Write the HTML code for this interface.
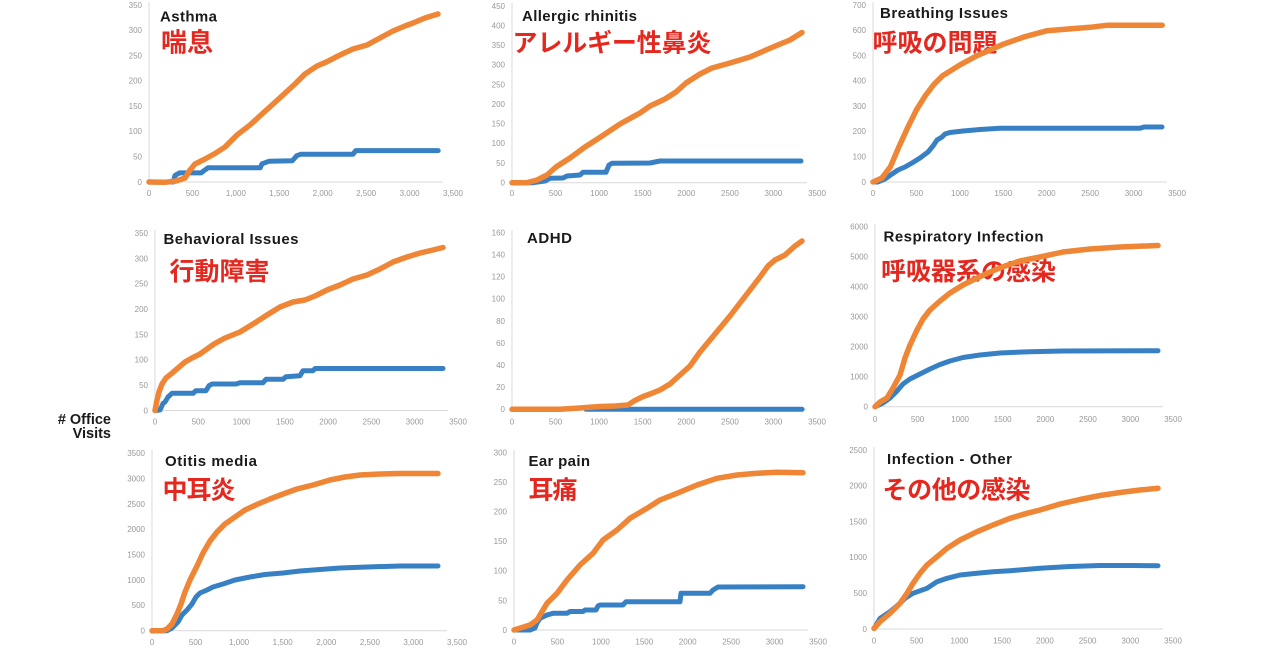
<!DOCTYPE html>
<html><head><meta charset="utf-8"><style>
html,body{margin:0;padding:0;background:#fff;}
svg{display:block;}
.t{font-family:"Liberation Sans",Arial,sans-serif;font-size:8px;fill:#999;}
.ya{text-anchor:end;}
.xa{text-anchor:middle;}
.ti{font-family:"Liberation Sans",Arial,sans-serif;font-size:15px;font-weight:bold;fill:#1a1a1a;}
.jp{font-family:"Liberation Sans","Noto Sans CJK JP",sans-serif;font-size:25px;font-weight:bold;fill:#e5281f;}
.ax{stroke:#d9d9d9;stroke-width:1;fill:none;}
.o{fill:none;stroke:#ee8636;stroke-width:5.5;stroke-linejoin:round;stroke-linecap:round;}
.b{fill:none;stroke:#3880c4;stroke-width:5;stroke-linejoin:round;stroke-linecap:round;}
.yl{font-family:"Liberation Sans",Arial,sans-serif;font-size:14.5px;font-weight:bold;fill:#1a1a1a;text-anchor:end;}
</style></head><body>
<svg width="1280" height="658" viewBox="0 0 1280 658" xmlns="http://www.w3.org/2000/svg">
<rect width="1280" height="658" fill="#fff"/>

<text class="yl" x="111" y="424">#&#160;Office</text>
<text class="yl" x="111" y="438">Visits</text>

<!-- P1 Asthma -->
<g>
<path class="ax" d="M149,2 V182 H443"/>
<g class="t ya">
<text x="142" y="184.8">0</text><text x="142" y="159.5">50</text><text x="142" y="134.2">100</text><text x="142" y="108.9">150</text><text x="142" y="83.7">200</text><text x="142" y="58.4">250</text><text x="142" y="33.1">300</text><text x="142" y="7.8">350</text>
</g>
<g class="t xa">
<text x="149" y="196">0</text><text x="192.4" y="196">500</text><text x="235.9" y="196">1,000</text><text x="279.3" y="196">1,500</text><text x="322.7" y="196">2,000</text><text x="366.1" y="196">2,500</text><text x="409.6" y="196">3,000</text><text x="453" y="196">3,500</text>
</g>
<text class="ti" x="160" y="21.7" textLength="57" lengthAdjust="spacing">Asthma</text>
<text class="jp" x="161" y="51.5" style="font-size:26px">喘息</text>
<polyline class="b" points="149,182 173.3,182 175,175.4 179.4,172.9 201.1,172.9 203.7,170.9 208,167.8 260.2,167.8 262,163.8 268.9,161.3 292.3,160.8 296.7,155.7 301,154.2 353.1,154.2 355.7,150.6 438.2,150.6"/>
<polyline class="o" points="149,182 165,182.3 176,181 185,178 190,170 195,164 205,159 215,153.5 225,147 237,135 250,125 262,114 272,105 283,95 295,84 305,74 317,66 327,61.7 340,55 353,49 367,45 380,38 393,31 405,26 413,23 425,18 438,14"/>
</g>

<!-- P2 Allergic rhinitis -->
<g>
<path class="ax" d="M512,3 V182.7 H807"/>
<g class="t ya">
<text x="505" y="185.5">0</text><text x="505" y="165.9">50</text><text x="505" y="146.2">100</text><text x="505" y="126.6">150</text><text x="505" y="107">200</text><text x="505" y="87.3">250</text><text x="505" y="67.7">300</text><text x="505" y="48.1">350</text><text x="505" y="28.4">400</text><text x="505" y="8.8">450</text>
</g>
<g class="t xa">
<text x="512" y="196">0</text><text x="555.6" y="196">500</text><text x="599.1" y="196">1000</text><text x="642.7" y="196">1500</text><text x="686.3" y="196">2000</text><text x="729.9" y="196">2500</text><text x="773.4" y="196">3000</text><text x="817" y="196">3500</text>
</g>
<text class="ti" x="522" y="21" textLength="115" lengthAdjust="spacing">Allergic rhinitis</text>
<text class="jp" x="512.5" y="51.5" textLength="199" lengthAdjust="spacing">アレルギー性鼻炎</text>
<polyline class="b" points="512,182.7 533,182.7 545,181 550,178.3 563,178 567,176 580,175 583,172.3 606,172.3 609,165 612,163.3 650,163 660,161 801,161"/>
<polyline class="o" points="512,182.7 527,182.7 537,180 547,175 556,167 570,158 585,147 599,138 620,124 640,113 650,106 665,99 676,92 686,83 700,74 712,68 730,63 750,57 773,47 790,40 802,32.5"/>
</g>

<!-- P3 Breathing Issues -->
<g>
<path class="ax" d="M873,2 V182 H1167"/>
<g class="t ya">
<text x="866" y="184.8">0</text><text x="866" y="159.5">100</text><text x="866" y="134.2">200</text><text x="866" y="108.9">300</text><text x="866" y="83.7">400</text><text x="866" y="58.4">500</text><text x="866" y="33.1">600</text><text x="866" y="7.8">700</text>
</g>
<g class="t xa">
<text x="873" y="196">0</text><text x="916.4" y="196">500</text><text x="959.9" y="196">1000</text><text x="1003.3" y="196">1500</text><text x="1046.7" y="196">2000</text><text x="1090.1" y="196">2500</text><text x="1133.6" y="196">3000</text><text x="1177" y="196">3500</text>
</g>
<text class="ti" x="880" y="18" textLength="128" lengthAdjust="spacing">Breathing Issues</text>
<text class="jp" x="872.5" y="51.5" textLength="125" lengthAdjust="spacing">呼吸の問題</text>
<polyline class="b" points="873,182 878,182 885,179 892,174 898,170 905,167 912,163 920,158 928,152 933,146 937,140 942,137 945,134 950,132.5 963,131 980,129.5 1000,128.3 1140,128.3 1144,127 1162,127"/>
<polyline class="o" points="873,182 881.7,178.2 890.4,166.8 899,146.6 907.7,127.6 916.4,110 925.1,96 933.8,84.6 942.5,75.8 959.9,64.9 977.2,55.6 1003.3,44.2 1025,36.6 1046.7,30.8 1090.1,27.3 1107.5,25.2 1162.2,25.2"/>
</g>

<!-- P4 Behavioral Issues -->
<g>
<path class="ax" d="M155,230 V410.5 H448"/>
<g class="t ya">
<text x="148" y="413.3">0</text><text x="148" y="388">50</text><text x="148" y="362.7">100</text><text x="148" y="337.4">150</text><text x="148" y="312.1">200</text><text x="148" y="286.7">250</text><text x="148" y="261.4">300</text><text x="148" y="236.1">350</text>
</g>
<g class="t xa">
<text x="155" y="424.5">0</text><text x="198.3" y="424.5">500</text><text x="241.6" y="424.5">1000</text><text x="284.9" y="424.5">1500</text><text x="328.1" y="424.5">2000</text><text x="371.4" y="424.5">2500</text><text x="414.7" y="424.5">3000</text><text x="458" y="424.5">3500</text>
</g>
<text class="ti" x="163.5" y="244" textLength="135" lengthAdjust="spacing">Behavioral Issues</text>
<text class="jp" x="169.5" y="280" textLength="100" lengthAdjust="spacing">行動障害</text>
<polyline class="b" points="155,410.5 160,410 163,403.5 165,402 168,397 172,393.3 193,393.3 196,390.7 206,390.7 209,385.7 212,384 236,384 240,382.7 263,382.7 266,379.3 283,379.3 286,376.7 300,375.7 303,370.7 313,370.7 315,368.5 443,368.5"/>
<polyline class="o" points="155,410.5 157,400 159,392 162,384 166,378 171,374 178,368 185,362 192,358 200,354 207,349 214,344 225,338 240,332 253,324 267,315 280,307 293,302 305,300 315,296 327,290 340,285 353,279 367,275 380,269 393,262 407,257 420,253 433,250 443,247.5"/>
</g>

<!-- P5 ADHD -->
<g>
<path class="ax" d="M512,230 V409.3 H807"/>
<g class="t ya">
<text x="505" y="412.1">0</text><text x="505" y="390">20</text><text x="505" y="367.9">40</text><text x="505" y="345.9">60</text><text x="505" y="323.8">80</text><text x="505" y="301.7">100</text><text x="505" y="279.6">120</text><text x="505" y="257.6">140</text><text x="505" y="235.5">160</text>
</g>
<g class="t xa">
<text x="512" y="424.5">0</text><text x="555.6" y="424.5">500</text><text x="599.1" y="424.5">1000</text><text x="642.7" y="424.5">1500</text><text x="686.3" y="424.5">2000</text><text x="729.9" y="424.5">2500</text><text x="773.4" y="424.5">3000</text><text x="817" y="424.5">3500</text>
</g>
<text class="ti" x="527" y="243" textLength="45" lengthAdjust="spacing">ADHD</text>
<polyline class="b" points="586,409.3 802,409.3"/>
<polyline class="o" points="512,409.3 560,409.3 580,408 600,406.5 615,406 628,405 634,401 642,397 650,394 660,390 670,384 680,375 690,366 700,352 710,340 720,328 730,316 740,303 750,290 760,277 768,266 775,260 785,255 795,246 802,241"/>
</g>

<!-- P6 Respiratory Infection -->
<g>
<path class="ax" d="M875,224 V406.7 H1163"/>
<g class="t ya">
<text x="868" y="409.5">0</text><text x="868" y="379.5">1000</text><text x="868" y="349.5">2000</text><text x="868" y="319.5">3000</text><text x="868" y="289.5">4000</text><text x="868" y="259.5">5000</text><text x="868" y="229.5">6000</text>
</g>
<g class="t xa">
<text x="875" y="422">0</text><text x="917.6" y="422">500</text><text x="960.1" y="422">1000</text><text x="1002.7" y="422">1500</text><text x="1045.3" y="422">2000</text><text x="1087.9" y="422">2500</text><text x="1130.4" y="422">3000</text><text x="1173" y="422">3500</text>
</g>
<text class="ti" x="883.5" y="241.5" textLength="160" lengthAdjust="spacing">Respiratory Infection</text>
<text class="jp" x="881" y="280" textLength="175" lengthAdjust="spacing">呼吸器系の感染</text>
<polyline class="b" points="875,406.7 883,403 890,398 897,391 903,384 910,379 920,374 930,369 940,364.5 950,361 963,357.5 980,355 1000,353 1030,351.7 1063,351 1158,350.7"/>
<polyline class="o" points="875,406.7 880,402 887,398 893,388 900,375 905,358 910,345 917,330 923,319 930,310 940,301 950,293 963,285 975,279 990,272 1005,266 1020,261 1040,257 1063,252 1090,249 1120,247 1158,245.5"/>
</g>

<!-- P7 Otitis media -->
<g>
<path class="ax" d="M152,450 V630.7 H447"/>
<g class="t ya">
<text x="145" y="633.5">0</text><text x="145" y="608.2">500</text><text x="145" y="582.8">1000</text><text x="145" y="557.5">1500</text><text x="145" y="532.1">2000</text><text x="145" y="506.8">2500</text><text x="145" y="481.5">3000</text><text x="145" y="456.1">3500</text>
</g>
<g class="t xa">
<text x="152" y="645">0</text><text x="195.6" y="645">500</text><text x="239.1" y="645">1,000</text><text x="282.7" y="645">1,500</text><text x="326.3" y="645">2,000</text><text x="369.9" y="645">2,500</text><text x="413.4" y="645">3,000</text><text x="457" y="645">3,500</text>
</g>
<text class="ti" x="165" y="466" textLength="92" lengthAdjust="spacing">Otitis media</text>
<text class="jp" x="162.5" y="498.5" textLength="73" lengthAdjust="spacing">中耳炎</text>
<polyline class="b" points="152,630.7 167,630.7 172,628 178,622 182,615 187,610 192,604 196,597 200,593 207,590 213,587 223,584 235,580 250,577 265,574.5 283,573 300,571 320,569.5 340,568 367,567 400,566 438,566"/>
<polyline class="o" points="152,630.7 163,630.7 167,629 172,624 177,614 181,604 185,592 190,580 197,566 203,553 210,541 217,532 225,524 235,517 245,510 258,504 270,499 283,494 297,489 313,485 330,480 345,477 360,475 380,474 400,473.5 438,473.5"/>
</g>

<!-- P8 Ear pain -->
<g>
<path class="ax" d="M514,450 V630 H808"/>
<g class="t ya">
<text x="507" y="632.8">0</text><text x="507" y="603.3">50</text><text x="507" y="573.7">100</text><text x="507" y="544.2">150</text><text x="507" y="514.6">200</text><text x="507" y="485.1">250</text><text x="507" y="455.5">300</text>
</g>
<g class="t xa">
<text x="514" y="644.5">0</text><text x="557.4" y="644.5">500</text><text x="600.9" y="644.5">1000</text><text x="644.3" y="644.5">1500</text><text x="687.7" y="644.5">2000</text><text x="731.1" y="644.5">2500</text><text x="774.6" y="644.5">3000</text><text x="818" y="644.5">3500</text>
</g>
<text class="ti" x="528.5" y="466" textLength="61.5" lengthAdjust="spacing">Ear pain</text>
<text class="jp" x="528.5" y="498.5" textLength="49" lengthAdjust="spacing">耳痛</text>
<polyline class="b" points="514,630 530,630 535,628 537,623 540,618.3 547,615 553,613.3 567,613.3 570,611.5 583,611.5 585,610 596,610 598,606 600,605 623,605 626,601.7 680,601.7 681,593.3 710,593.3 713,590 718,587 803,586.7"/>
<polyline class="o" points="514,630 530,625 537,620 547,603.3 557,593.3 567,580 580,565 593,553.3 603,540 617,530 630,518.3 647,508.3 660,500 677,493.3 697,485 717,478.3 737,475 757,473.3 777,472.3 803,472.7"/>
</g>

<!-- P9 Infection - Other -->
<g>
<path class="ax" d="M874,447 V629 H1163"/>
<g class="t ya">
<text x="867" y="631.8">0</text><text x="867" y="596">500</text><text x="867" y="560.2">1000</text><text x="867" y="524.4">1500</text><text x="867" y="488.6">2000</text><text x="867" y="452.8">2500</text>
</g>
<g class="t xa">
<text x="874" y="643.5">0</text><text x="916.7" y="643.5">500</text><text x="959.4" y="643.5">1000</text><text x="1002.1" y="643.5">1500</text><text x="1044.9" y="643.5">2000</text><text x="1087.6" y="643.5">2500</text><text x="1130.3" y="643.5">3000</text><text x="1173" y="643.5">3500</text>
</g>
<text class="ti" x="887" y="464" textLength="125" lengthAdjust="spacing">Infection - Other</text>
<text class="jp" x="882.5" y="498.5" textLength="148" lengthAdjust="spacing">その他の感染</text>
<polyline class="b" points="874,628.5 880,618.5 890,611.7 900,603.3 905,598.3 913,593.3 927,588.3 937,581.7 947,578.3 960,575 977,573.3 993,571.7 1010,570.7 1040,568.3 1070,566.5 1100,565.5 1130,565.5 1158,565.7"/>
<polyline class="o" points="874,628.5 880,621.7 890,613.3 900,603.3 907,593.3 913,583.3 920,573.3 927,565 937,556.7 947,548.3 960,540 977,531.7 993,525 1010,518.3 1027,513.3 1040,510 1060,504 1080,499.5 1100,495.5 1120,492.5 1140,490 1158,488.3"/>
</g>
</svg>
</body></html>
